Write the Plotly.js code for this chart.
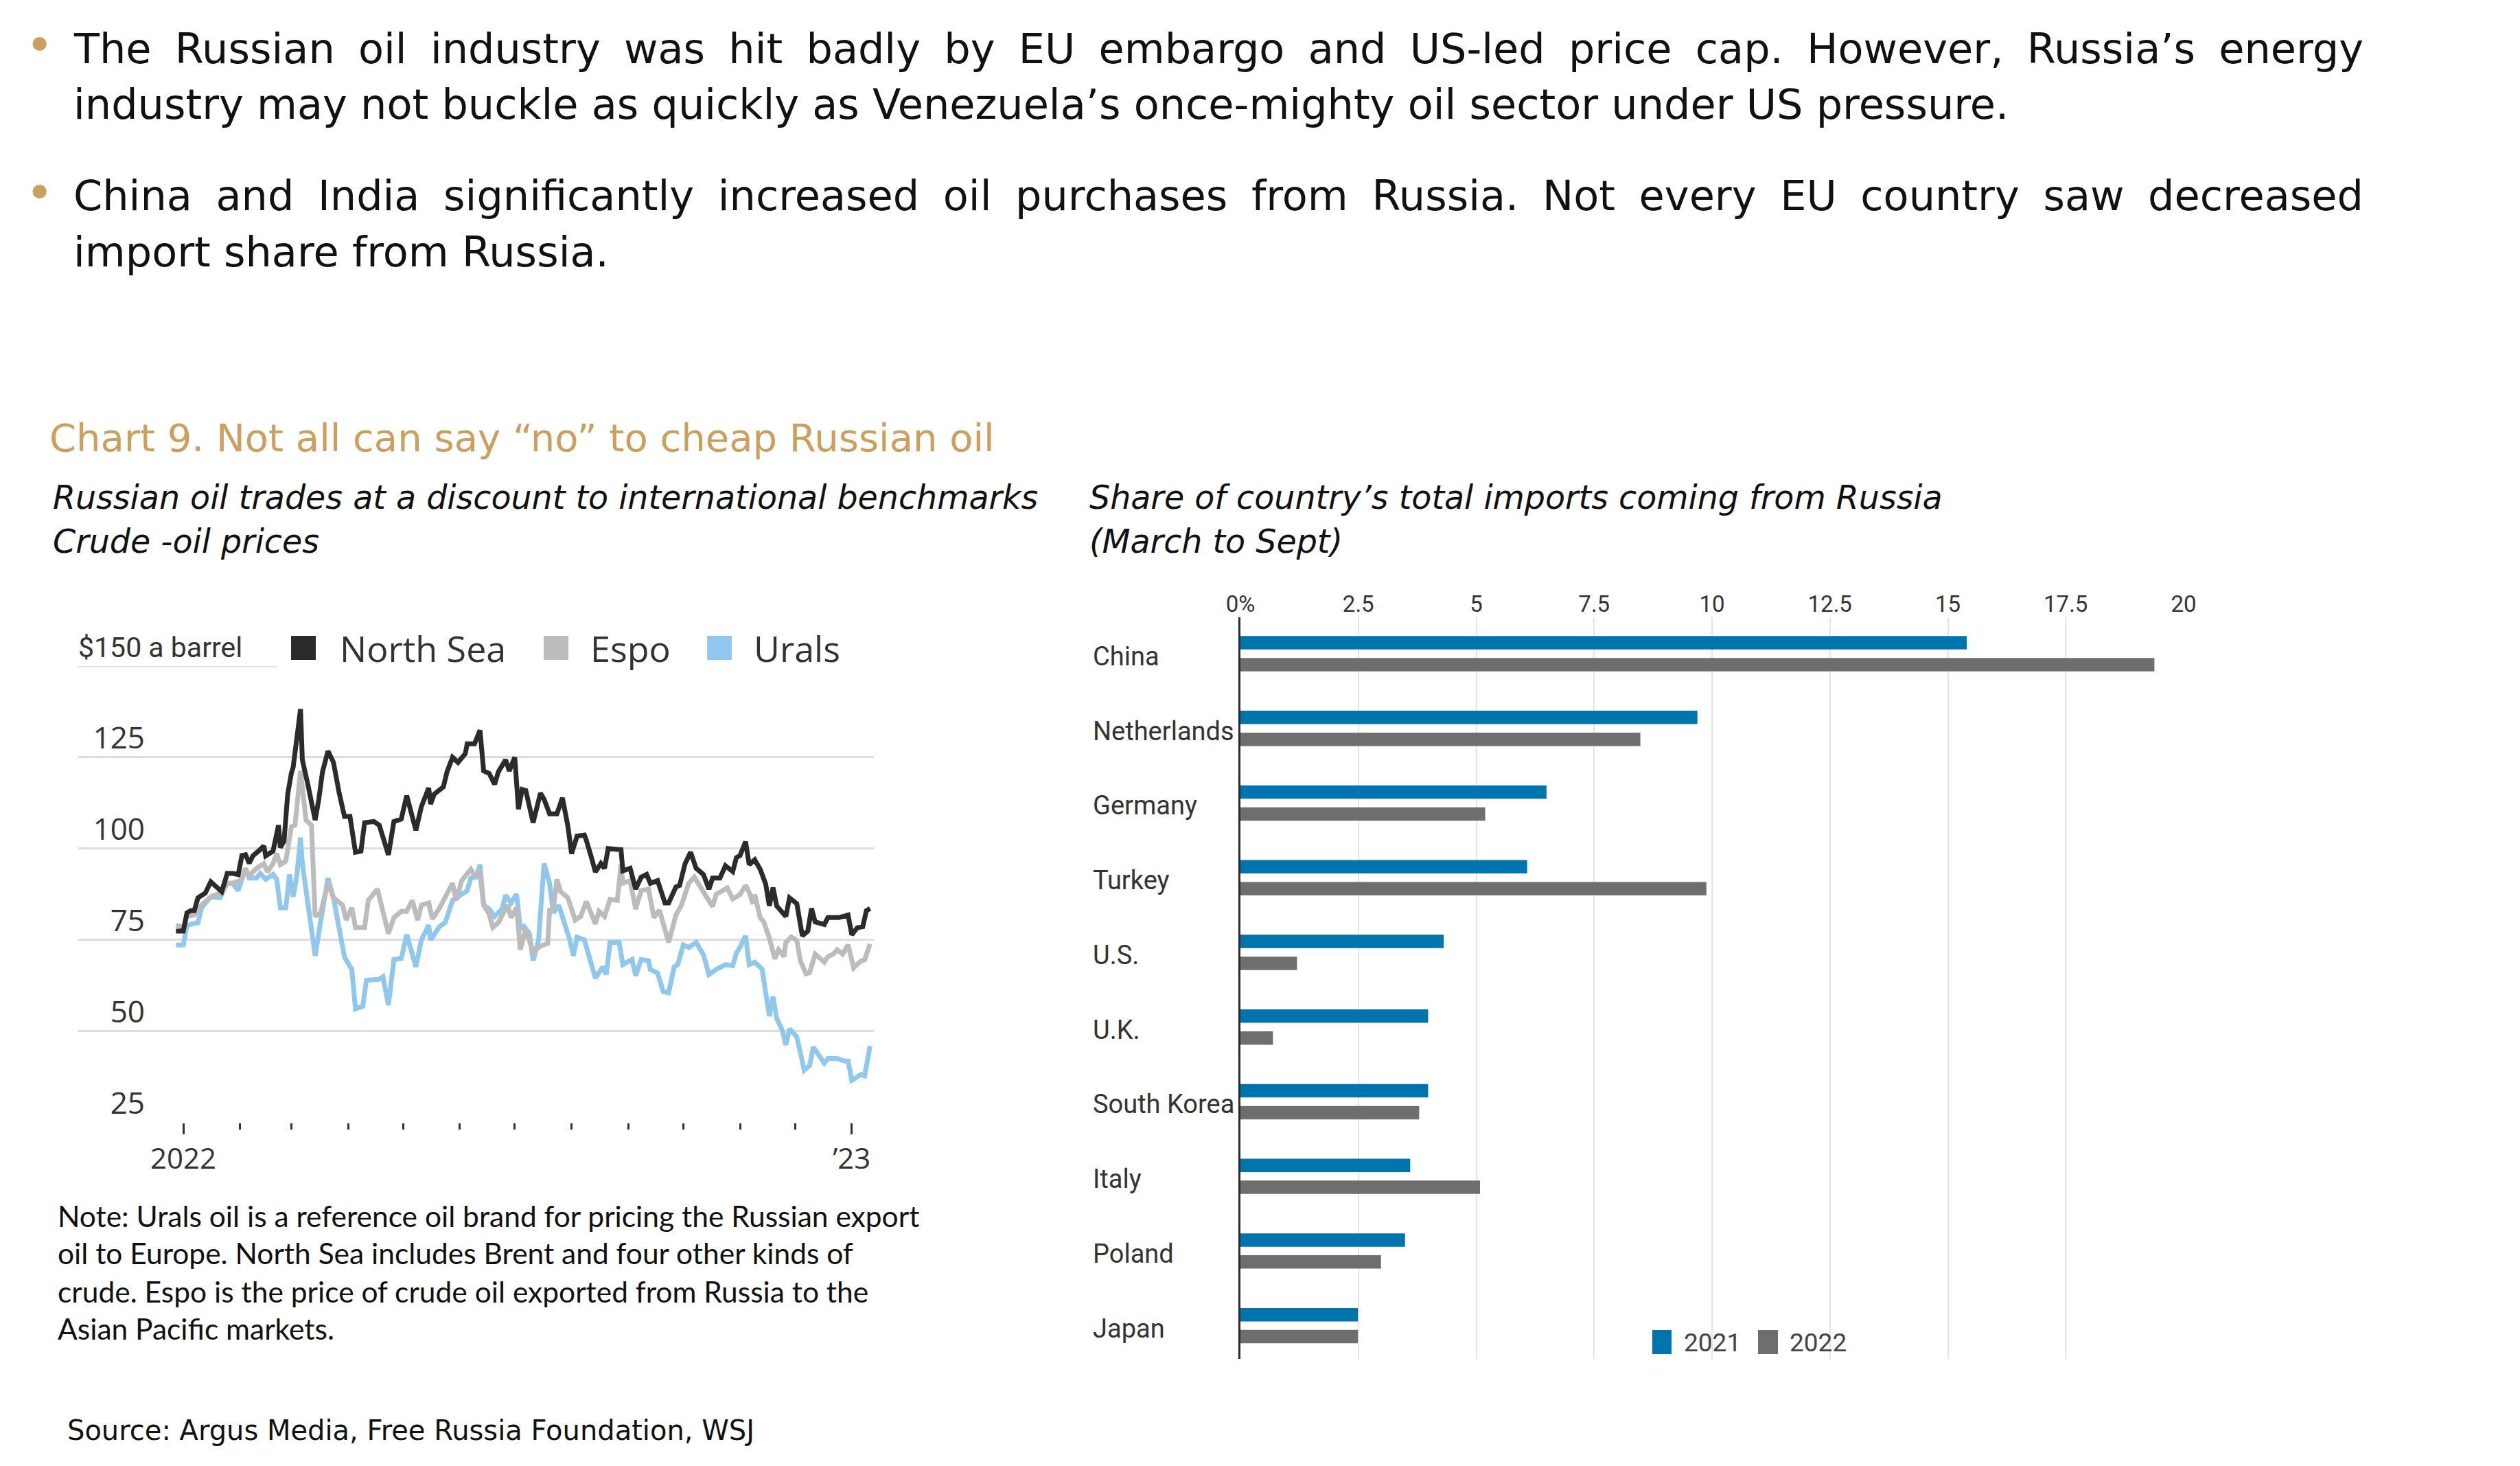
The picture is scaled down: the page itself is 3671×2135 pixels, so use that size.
<!DOCTYPE html>
<html>
<head>
<meta charset="utf-8">
<script src="https://cdn.plot.ly/plotly-3.0.1.min.js"></script>
<style>
html, body { margin: 0; padding: 0; background: #ffffff; }
#chart { width: 3671px; height: 2135px; }
</style>
</head>
<body>
<div id="chart"></div>
<script>
// ---------------- DATA ----------------
const northSeaDates = ['2021-12-28','2022-01-01','2022-01-03','2022-01-05','2022-01-07','2022-01-09','2022-01-13','2022-01-16','2022-01-22','2022-01-25',
'2022-01-28','2022-01-31','2022-02-02','2022-02-04','2022-02-06','2022-02-08','2022-02-11','2022-02-14','2022-02-15','2022-02-19',
'2022-02-22','2022-02-23','2022-02-25','2022-02-27','2022-03-01','2022-03-02','2022-03-06','2022-03-07','2022-03-10','2022-03-14',
'2022-03-16','2022-03-18','2022-03-21','2022-03-24','2022-03-27','2022-03-30','2022-04-02','2022-04-05','2022-04-08','2022-04-10',
'2022-04-15','2022-04-18','2022-04-23','2022-04-26','2022-04-30','2022-05-03','2022-05-08','2022-05-11','2022-05-15','2022-05-16',
'2022-05-18','2022-05-23','2022-05-25','2022-05-28','2022-05-31','2022-06-04','2022-06-05','2022-06-09','2022-06-12','2022-06-14',
'2022-06-17','2022-06-20','2022-06-22','2022-06-26','2022-06-28','2022-07-01','2022-07-03','2022-07-05','2022-07-07','2022-07-11',
'2022-07-15','2022-07-17','2022-07-20','2022-07-24','2022-07-27','2022-07-30','2022-08-01','2022-08-04','2022-08-08','2022-08-09',
'2022-08-12','2022-08-14','2022-08-17','2022-08-19','2022-08-21','2022-08-25','2022-08-28','2022-08-29','2022-09-02','2022-09-05',
'2022-09-08','2022-09-11','2022-09-13','2022-09-17','2022-09-21','2022-09-23','2022-09-27','2022-09-29','2022-10-02','2022-10-05',
'2022-10-08','2022-10-12','2022-10-15','2022-10-17','2022-10-21','2022-10-24','2022-10-28','2022-10-30','2022-11-01','2022-11-04',
'2022-11-06','2022-11-09','2022-11-12','2022-11-15','2022-11-17','2022-11-19','2022-11-21','2022-11-26','2022-11-28','2022-12-02',
'2022-12-05','2022-12-08','2022-12-10','2022-12-12','2022-12-17','2022-12-19','2022-12-25','2022-12-30','2023-01-01','2023-01-04',
'2023-01-07','2023-01-09','2023-01-11'];
const northSeaPrices = [77.4,77.4,82.4,83,83,86.5,87.8,90.9,88.2,93.2,
93.2,92.9,98.1,98.3,96,98,99.3,100.7,98,99.3,
106.4,100.3,102,114.9,120.6,122.3,138.2,124.3,117.6,107.8,
113.5,121,126.7,123.6,115.5,108.8,108.8,99,99.3,107.1,
107.4,106.4,98.3,107.4,108.1,114.5,105,111.5,116.6,112.2,
114.9,116.9,121,125,123.6,126,128.7,128.7,132.4,121.3,
120.6,117.6,121,124.3,121.3,125,110.8,116.2,115.9,107.1,
115.2,113.5,109.5,109.5,113.9,106.1,98.6,103.4,103.7,102.4,
97.3,93.6,95.9,94.6,100,100,99.7,93.9,94.6,88.9,
92.2,92.9,90.5,91.2,85.1,85.1,89.5,89.9,95.9,99,
94.6,92.9,88.9,91.9,91.9,95.3,93.7,97.5,98.1,101.9,
95.6,96.9,94.3,90.3,84.3,89.3,84.3,81.4,86.5,84.9,
76.1,77.4,83.6,79.9,79.2,81.1,81.1,81.8,76.4,78.3,
78.6,83,83.6];

const espoDates = ['2021-12-28','2022-01-01','2022-01-03','2022-01-07','2022-01-11','2022-01-16','2022-01-21','2022-01-25','2022-01-28','2022-02-01',
'2022-02-04','2022-02-06','2022-02-10','2022-02-14','2022-02-16','2022-02-19','2022-02-21','2022-02-23','2022-02-26','2022-03-01',
'2022-03-03','2022-03-06','2022-03-09','2022-03-12','2022-03-14','2022-03-17','2022-03-21','2022-03-24','2022-03-29','2022-03-31',
'2022-04-03','2022-04-05','2022-04-10','2022-04-12','2022-04-17','2022-04-20','2022-04-23','2022-04-26','2022-04-30','2022-05-03',
'2022-05-06','2022-05-09','2022-05-11','2022-05-15','2022-05-17','2022-05-21','2022-05-24','2022-05-28','2022-05-30','2022-06-02',
'2022-06-07','2022-06-09','2022-06-12','2022-06-14','2022-06-17','2022-06-19','2022-06-22','2022-06-27','2022-06-29','2022-07-02',
'2022-07-04','2022-07-07','2022-07-11','2022-07-15','2022-07-19','2022-07-20','2022-07-22','2022-07-24','2022-07-26','2022-07-30',
'2022-08-03','2022-08-06','2022-08-09','2022-08-14','2022-08-16','2022-08-19','2022-08-22','2022-08-26','2022-08-28','2022-08-29',
'2022-09-02','2022-09-05','2022-09-08','2022-09-12','2022-09-15','2022-09-18','2022-09-23','2022-09-27','2022-09-30','2022-10-04',
'2022-10-07','2022-10-10','2022-10-13','2022-10-17','2022-10-19','2022-10-25','2022-10-28','2022-11-01','2022-11-04','2022-11-06',
'2022-11-08','2022-11-09','2022-11-12','2022-11-14','2022-11-17','2022-11-20','2022-11-22','2022-11-25','2022-11-26','2022-11-29',
'2022-12-02','2022-12-04','2022-12-07','2022-12-09','2022-12-12','2022-12-17','2022-12-19','2022-12-22','2022-12-24','2022-12-27',
'2022-12-30','2023-01-02','2023-01-06','2023-01-08','2023-01-11'];
const espoPrices = [79,78.4,81.4,81.8,84.5,86.8,87.8,90.5,90.5,91.2,
94.3,92.6,94.6,95.9,93.6,95.9,98.6,95.6,96.6,106,
106.4,121.3,107.8,106.4,81.4,82.4,90.5,86.5,84.5,80.4,
83.8,78.4,78.4,85.8,88.9,82.4,76.7,81.1,82.8,82.8,
85.8,80.4,84.5,85.1,80.7,83.8,86.5,90.5,85.8,91.2,
94.3,92.6,93.2,84.5,82.1,78.4,79.7,84.5,81.1,83.8,
72.3,78,71.6,73.3,74,83.1,83.4,91.6,88.2,86.5,
80.4,81.4,85.5,79.4,82.8,81.4,86.1,85.8,95.6,90.5,
91.2,83.4,88.5,88.9,81.1,83.1,74.3,81.8,84.5,90.5,
92.2,89.9,87.5,84.1,87.5,89.2,86.2,87.4,89.9,88,
84.9,87.4,81.1,79.9,75.5,69.8,72.3,70.4,74.2,75.8,
74.8,69.2,65.7,66,71.1,68.9,70.4,71.1,72.3,71.1,
73.6,67.3,69.2,69.5,73.9];

const uralsDates = ['2021-12-28','2022-01-01','2022-01-03','2022-01-06','2022-01-09','2022-01-11','2022-01-16','2022-01-21','2022-01-25','2022-01-28',
'2022-01-31','2022-02-04','2022-02-06','2022-02-10','2022-02-12','2022-02-15','2022-02-19','2022-02-21','2022-02-23','2022-02-26',
'2022-02-28','2022-03-02','2022-03-04','2022-03-06','2022-03-07','2022-03-10','2022-03-14','2022-03-17','2022-03-21','2022-03-24',
'2022-03-28','2022-03-30','2022-04-03','2022-04-05','2022-04-09','2022-04-11','2022-04-18','2022-04-20','2022-04-23','2022-04-26',
'2022-04-30','2022-05-03','2022-05-08','2022-05-11','2022-05-15','2022-05-16','2022-05-21','2022-05-24','2022-05-28','2022-06-01',
'2022-06-05','2022-06-07','2022-06-10','2022-06-12','2022-06-14','2022-06-17','2022-06-20','2022-06-24','2022-06-26','2022-06-29',
'2022-07-02','2022-07-04','2022-07-06','2022-07-09','2022-07-11','2022-07-14','2022-07-17','2022-07-20','2022-07-22','2022-07-25',
'2022-07-29','2022-07-31','2022-08-02','2022-08-04','2022-08-08','2022-08-11','2022-08-14','2022-08-18','2022-08-20','2022-08-22',
'2022-08-27','2022-08-29','2022-09-03','2022-09-05','2022-09-08','2022-09-12','2022-09-13','2022-09-17','2022-09-20','2022-09-23',
'2022-09-26','2022-09-28','2022-10-01','2022-10-04','2022-10-08','2022-10-12','2022-10-15','2022-10-19','2022-10-24','2022-10-28',
'2022-10-30','2022-11-01','2022-11-04','2022-11-06','2022-11-09','2022-11-13','2022-11-15','2022-11-17','2022-11-19','2022-11-21',
'2022-11-24','2022-11-26','2022-11-28','2022-12-02','2022-12-04','2022-12-06','2022-12-09','2022-12-11','2022-12-14','2022-12-17',
'2022-12-19','2022-12-24','2022-12-28','2022-12-30','2023-01-01','2023-01-06','2023-01-08','2023-01-11'];
const uralsPrices = [73.6,73.6,79,79.4,79.7,83.8,86.8,86.5,90.5,90.5,
88.5,94.6,91.9,91.9,93.2,91.6,92.9,91.6,83.8,83.8,
92.9,86.8,92.6,103,95.9,85.1,70.6,80.1,91.9,86.5,
76.7,70.3,66.9,56.1,56.8,63.9,64.2,64.9,57.1,69.6,
69.9,76.4,67.6,75,79,75,78.7,79.7,85.8,87.2,
88.5,91.9,92.2,95.6,84.5,83.4,81.4,83.4,87.2,85.1,
87.5,78,78.7,76.7,69.3,75,95.9,90.5,82.4,84.5,
78,75,70.6,75.7,75,69.6,64.5,67.6,65.5,74.3,
74.3,68.2,69.6,65.2,69.6,69.3,66.9,65.9,60.8,60.5,
67.6,68.2,73.6,72.9,74.3,70.9,65.5,66.9,68.2,67.9,
71.4,73,76.1,68.2,68.9,67,59.7,54.1,59.4,53.5,
50.3,46.2,50.6,48.4,44,39.3,40.6,45.6,43.4,41.2,
42.5,42.5,41.8,41.8,36.5,38.1,37.7,45.9];

const priceTickVals = [25, 50, 75, 100, 125];
const yearTickVals = ['2022-01-01', '2023-01-01'];
const yearTickText = ['2022', '\u201923'];
const monthTickVals = ['2022-02-01','2022-03-01','2022-04-01','2022-05-01','2022-06-01','2022-07-01',
  '2022-08-01','2022-09-01','2022-10-01','2022-11-01','2022-12-01'];

const countries = ['China','Netherlands','Germany','Turkey','U.S.','U.K.','South Korea','Italy','Poland','Japan'];
const share2021 = [15.4, 9.69, 6.49, 6.08, 4.31, 3.98, 3.98, 3.60, 3.49, 2.49];
const share2022 = [19.38, 8.48, 5.19, 9.88, 1.20, 0.69, 3.79, 5.08, 2.98, 2.49];
const shareTickVals = [0, 2.5, 5, 7.5, 10, 12.5, 15, 17.5, 20];
const shareTickText = ['0%', '2.5', '5', '7.5', '10', '12.5', '15', '17.5', '20'];

const bullet1 = ['The Russian oil industry was hit badly by EU embargo and US-led price cap. However, Russia\u2019s energy',
                 'industry may not buckle as quickly as Venezuela\u2019s once-mighty oil sector under US pressure.'];
const bullet2 = ['China and India significantly increased oil purchases from Russia. Not every EU country saw decreased',
                 'import share from Russia.'];
const chartTitle = 'Chart 9. Not all can say \u201cno\u201d to cheap Russian oil';
const leftSubtitle = ['Russian oil trades at a discount to international benchmarks', 'Crude -oil prices'];
const rightSubtitle = ['Share of country\u2019s total imports coming from Russia', '(March to Sept)'];
const noteLines = ['Note: Urals oil is a reference oil brand for pricing the Russian export',
  'oil to Europe. North Sea includes Brent and four other kinds of',
  'crude. Espo is the price of crude oil exported from Russia to the',
  'Asian Pacific markets.'];
const sourceText = 'Source: Argus Media, Free Russia Foundation, WSJ';

// ---------------- STYLE ----------------
const W = 3671, H = 2135;
const fx = p => p / W;
const fy = p => 1 - p / H;

const FONT_SLIDE = '"DejaVu Sans", sans-serif';
const FONT_UI = '"Open Sans", "Noto Sans", sans-serif';
const FONT_NARROW = 'Roboto, "Liberation Sans", sans-serif';
const FONT_NOTE = 'Lato, "Open Sans", sans-serif';
const GOLD = '#cc9f5e';
const C_NS = '#2b2b2b', C_ESPO = '#bcbcbc', C_URALS = '#8fc8ec';
const C_2021 = '#0274ad', C_2022 = '#6e6e6e';

// ---------------- TRACES ----------------
const traces = [
  { type: 'scatter', mode: 'lines', name: 'Urals', x: uralsDates, y: uralsPrices,
    line: { color: C_URALS, width: 7 }, xaxis: 'x', yaxis: 'y', hoverinfo: 'skip', showlegend: false },
  { type: 'scatter', mode: 'lines', name: 'Espo', x: espoDates, y: espoPrices,
    line: { color: C_ESPO, width: 7 }, xaxis: 'x', yaxis: 'y', hoverinfo: 'skip', showlegend: false },
  { type: 'scatter', mode: 'lines', name: 'North Sea', x: northSeaDates, y: northSeaPrices,
    line: { color: C_NS, width: 7 }, xaxis: 'x', yaxis: 'y', hoverinfo: 'skip', showlegend: false },
  { type: 'bar', orientation: 'h', name: '2021', y: countries, x: share2021,
    marker: { color: C_2021 }, xaxis: 'x2', yaxis: 'y2', hoverinfo: 'skip', showlegend: false },
  { type: 'bar', orientation: 'h', name: '2022', y: countries, x: share2022,
    marker: { color: C_2022 }, xaxis: 'x2', yaxis: 'y2', hoverinfo: 'skip', showlegend: false }
];

// ---------------- ANNOTATIONS ----------------
const ann = [];
const justify = [];   // [annotation index, right edge px]
function txt(x, y, text, font, extra) {
  ann.push(Object.assign({ xref: 'paper', yref: 'paper', x: fx(x), y: fy(y), text: text,
    showarrow: false, xanchor: 'left', yanchor: 'middle', align: 'left', font: font }, extra || {}));
  return ann.length - 1;
}
const slideFont = { family: FONT_SLIDE, size: 60.5, color: '#111111' };
txt(57, 66, '\u2022', { family: 'DejaVu Sans', size: 70, color: GOLD }, { xanchor: 'center', align: 'center' });
justify.push([txt(105, 71, bullet1[0], slideFont), 3441]);
txt(105, 152, bullet1[1], slideFont);
txt(57, 281, '\u2022', { family: 'DejaVu Sans', size: 70, color: GOLD }, { xanchor: 'center', align: 'center' });
justify.push([txt(105, 285, bullet2[0], slideFont), 3441]);
txt(105, 367, bullet2[1], slideFont);

txt(70, 637, chartTitle, { family: FONT_SLIDE, size: 56, color: GOLD });
const subFont = { family: FONT_SLIDE, size: 47.5, color: '#111111', style: 'italic' };
txt(75, 724, leftSubtitle[0], subFont);
txt(75, 788, leftSubtitle[1], subFont);
txt(1585, 724, rightSubtitle[0], subFont);
txt(1585, 788, rightSubtitle[1], subFont);

const noteFont = { family: FONT_NOTE, size: 42.5, color: '#111111' };
[1770, 1824, 1880, 1934].forEach((y, i) => txt(82, y, noteLines[i], noteFont));
txt(96, 2083, sourceText, { family: FONT_SLIDE, size: 40, color: '#111111' });

// left chart legend
txt(112, 943, '$150 a barrel', { family: FONT_NARROW, size: 41, color: '#333333' });
txt(493, 943, 'North Sea', { family: FONT_UI, size: 52, color: '#333333' });
txt(858, 943, 'Espo', { family: FONT_UI, size: 52, color: '#333333' });
txt(1096, 943, 'Urals', { family: FONT_UI, size: 52, color: '#333333' });

// right chart legend
txt(2451, 1955, '2021', { family: FONT_NARROW, size: 37, color: '#444444' });
txt(2605, 1955, '2022', { family: FONT_NARROW, size: 37, color: '#444444' });

// category labels (left aligned)
countries.forEach(c => {
  ann.push({ xref: 'paper', yref: 'y2', x: fx(1590), y: c, text: c, showarrow: false,
    xanchor: 'left', yanchor: 'middle', align: 'left', yshift: -4,
    font: { family: FONT_NARROW, size: 38, color: '#333333' } });
});

// ---------------- SHAPES ----------------
const shapes = [];
function sq(x0, y0, x1, y1, color) {
  shapes.push({ type: 'rect', xref: 'paper', yref: 'paper', x0: fx(x0), x1: fx(x1), y0: fy(y1), y1: fy(y0),
    fillcolor: color, line: { width: 0 } });
}
sq(424, 926, 460, 961, C_NS);
sq(792, 926, 828, 961, C_ESPO);
sq(1030, 926, 1066, 961, C_URALS);
sq(2407, 1937, 2435, 1972, C_2021);
sq(2561, 1937, 2590, 1972, C_2022);
shapes.push({ type: 'line', xref: 'paper', yref: 'y', x0: fx(114), x1: fx(404), y0: 150, y1: 150,
  line: { color: '#dcdcdc', width: 3 } });

// ---------------- LAYOUT ----------------
const layout = {
  width: W, height: H,
  margin: { l: 0, r: 0, t: 0, b: 0, pad: 0 },
  paper_bgcolor: '#ffffff', plot_bgcolor: 'rgba(0,0,0,0)',
  showlegend: false,
  barmode: 'group', bargap: 0.412, bargroupgap: 0.39,
  xaxis: {
    domain: [fx(114), fx(1273)], anchor: 'y', type: 'date',
    range: ['2021-11-04 15:36', '2023-01-13 01:30'],
    tickmode: 'array', tickvals: yearTickVals, ticktext: yearTickText,
    ticks: 'outside', ticklen: 16, tickwidth: 3, tickcolor: '#333333',
    tickfont: { family: FONT_UI, size: 42, color: '#333333' },
    showgrid: false, zeroline: false, showline: false,
    minor: { tickmode: 'array', tickvals: monthTickVals, ticks: 'outside', ticklen: 9,
      tickwidth: 3, tickcolor: '#333333', showgrid: false }
  },
  yaxis: {
    domain: [fy(1634.5), fy(970)], anchor: 'free', position: fx(211),
    range: [25, 150], tickmode: 'array', tickvals: priceTickVals,
    ticks: '', showline: false, zeroline: false,
    showgrid: true, gridcolor: '#dddddd', gridwidth: 3,
    tickfont: { family: FONT_UI, size: 44, color: '#333333' },
    ticklabelshift: -28
  },
  xaxis2: {
    domain: [fx(1807), fx(3181)], anchor: 'y2', side: 'top',
    range: [0, 20], tickmode: 'array', tickvals: shareTickVals, ticktext: shareTickText,
    ticks: '', showline: false, zeroline: false,
    showgrid: true, gridcolor: '#e4e4e4', gridwidth: 2,
    tickfont: { family: FONT_NARROW, size: 33, color: '#333333' }
  },
  yaxis2: {
    domain: [fy(1979), fy(899)], anchor: 'x2', type: 'category',
    categoryorder: 'array', categoryarray: countries,
    range: [9.445, -0.487],
    showticklabels: false, ticks: '', showgrid: false, zeroline: false,
    showline: true, linecolor: '#2a2a2a', linewidth: 3
  },
  annotations: ann,
  shapes: shapes
};

Plotly.newPlot('chart', traces, layout, { staticPlot: true, displayModeBar: false }).then(gd => {
  // justify the first line of each bullet paragraph (as in the original slide)
  justify.forEach(([idx, right]) => {
    try {
      const t = gd.querySelector('g.annotation[data-index="' + idx + '"] text.annotation-text');
      if (!t) return;
      const spaces = (ann[idx].text.match(/ /g) || []).length;
      const bb = t.getBBox();
      const target = right - 105;
      const extra = (target - bb.width) / spaces;
      if (spaces > 0 && extra > 0) t.style.wordSpacing = extra.toFixed(2) + 'px';
    } catch (e) {}
  });
});
</script>
</body>
</html>
